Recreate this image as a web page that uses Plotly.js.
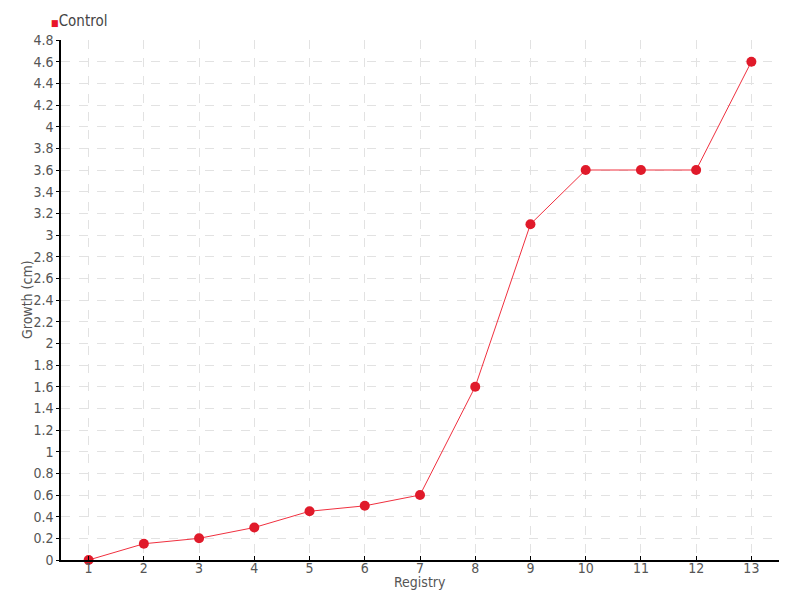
<!DOCTYPE html>
<html><head><meta charset="utf-8">
<script src="https://cdn.plot.ly/plotly-3.0.1.min.js"></script>
<style>body{margin:0;}#chart{width:800px;height:600px;} #chart text{font-stretch:condensed !important;}</style>
</head><body><div id="chart"></div>
<script>
const registry = [1,2,3,4,5,6,7,8,9,10,11,12,13];
const growth = [0,0.15,0.2,0.3,0.45,0.5,0.6,1.6,3.1,3.6,3.6,3.6,4.6];
const seriesName = "Control";
const xTitle = "Registry";
const yTitle = "Growth (cm)";
const yTicks = [0,0.2,0.4,0.6,0.8,1,1.2,1.4,1.6,1.8,2,2.2,2.4,2.6,2.8,3,3.2,3.4,3.6,3.8,4,4.2,4.4,4.6,4.8];

const font = "DejaVu Sans Condensed, DejaVu Sans, sans-serif";
const traces = [
  {x: registry, y: growth, type: 'scatter', mode: 'lines+markers', name: seriesName, showlegend: false,
   cliponaxis: false,
   line: {color: '#f0303f', width: 1}, marker: {color: '#e01a2a', size: 10}}
];
const layout = {
  width: 800, height: 600,
  margin: {l: 61, r: 21, t: 40, b: 40, autoexpand: false},
  paper_bgcolor: '#fff', plot_bgcolor: '#fff',
  font: {family: font, color: '#555', size: 14},
  showlegend: false,
  annotations: [
    {xref: 'paper', yref: 'paper', x: -0.017, y: 1.0, yshift: 19, xanchor: 'left', yanchor: 'middle',
     showarrow: false, font: {size: 15, color: '#444'},
     text: '<span style="color:#e8142a;font-size:9px">■</span>' + seriesName},
    {xref: 'paper', yref: 'paper', x: 0.5, y: 0, yshift: -22, xanchor: 'center', yanchor: 'middle',
     showarrow: false, font: {size: 14, color: '#555'}, text: xTitle},
    {xref: 'paper', yref: 'paper', x: 0, xshift: -34, y: 0.5, xanchor: 'center', yanchor: 'middle',
     textangle: -90, showarrow: false, font: {size: 14, color: '#555'}, text: yTitle}
  ],
  xaxis: {type: 'linear', range: [0.5, 13.5], tickvals: registry, ticktext: registry.map(String),
          showline: true, linecolor: '#000', linewidth: 1.5, ticks: 'inside', ticklen: 4, tickcolor: '#000',
          ticklabelstandoff: -6,
          showgrid: true, gridcolor: '#e2e2e2', griddash: 'dash', zeroline: false,
          tickfont: {size: 14, color: '#555'}},
  yaxis: {range: [0, 4.8], tickvals: yTicks, ticktext: yTicks.map(String),
          showline: true, linecolor: '#000', linewidth: 1.5, ticks: 'outside', ticklen: 3, tickcolor: '#000',
          showgrid: true, gridcolor: '#e2e2e2', griddash: 'dash', zeroline: false,
          tickfont: {size: 14, color: '#555'}}
};
Plotly.newPlot('chart', traces, layout, {displayModeBar: false});
</script></body></html>
